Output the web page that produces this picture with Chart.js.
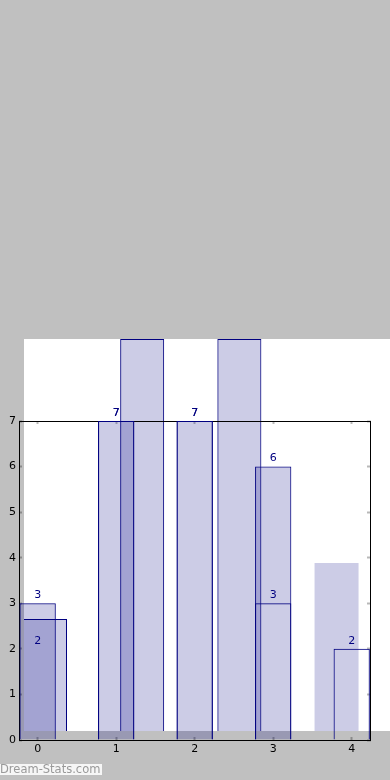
<!DOCTYPE html>
<html lang="es">
<head>
<meta charset="utf-8">
<title>Dream-Stats</title>
<script src="https://cdn.jsdelivr.net/npm/chart.js@4.4.1/dist/chart.umd.min.js"></script>
<style>
    html, body { margin: 0; padding: 0; width: 390px; height: 780px; overflow: hidden; background: #c0c0c0; }
    canvas { position: absolute; left: 0; top: 0; }
    #marca {
        position: absolute; left: 0; top: 764px; height: 11px; line-height: 11px;
        padding-right: 2px; background: #f6f6f6; color: #999;
        font-family: "DejaVu Sans", sans-serif; font-size: 11.5px;
    }
</style>
</head>
<body>
<canvas id="graficoFondo" width="390" height="780"></canvas>
<canvas id="graficoBarras" width="390" height="780"></canvas>
<div id="marca">Dream-Stats.com</div>
<script>
"use strict";

// Datos
const categorias = [0, 1, 2, 3, 4];
const ticksY = [0, 1, 2, 3, 4, 5, 6, 7];
const serieA = [3, 7, 7, 6, 2];
const serieB = [2, 7, 7, 3, null];

const AZUL = "#000080";
const RELLENO = "rgba(0, 0, 128, 0.2)";
const MARCA = "rgba(0, 0, 0, 0.28)";
const fuente = { family: "DejaVu Sans", size: 11 };

document.addEventListener("DOMContentLoaded", () => {
    const ctxFondo = document.getElementById("graficoFondo").getContext("2d");
    const ctxBarras = document.getElementById("graficoBarras").getContext("2d");

    const puntos = (serie) => serie.map((v, i) => ({ x: categorias[i], y: v }));
    const ponerTicks = (valores) => (escala) => { escala.ticks = valores.map(v => ({ value: v })); };

    // Panel blanco desplazado (copia ampliada del área del gráfico)
    const fondoBlanco = {
        id: "fondoBlanco",
        beforeDatasetsDraw(chart) {
            const { ctx, chartArea: a } = chart;
            ctx.save();
            ctx.fillStyle = "#ffffff";
            ctx.fillRect(a.left, a.top, a.right - a.left, a.bottom - a.top);
            ctx.restore();
        }
    };

    // Etiquetas con el valor encima de cada barra
    const etiquetas = {
        id: "etiquetas",
        afterDatasetsDraw(chart) {
            const ctx = chart.ctx;
            ctx.save();
            ctx.font = '11px "DejaVu Sans"';
            ctx.fillStyle = AZUL;
            ctx.textAlign = "center";
            ctx.textBaseline = "middle";
            chart.data.datasets.forEach((ds, i) => {
                chart.getDatasetMeta(i).data.forEach((barra, j) => {
                    const valor = ds.data[j].y;
                    if (valor == null) return;
                    ctx.fillText(String(valor), barra.x, barra.y - 8);
                });
            });
            ctx.restore();
        }
    };

    new Chart(ctxFondo, {
        type: "bar",
        data: {
            datasets: [{
                data: puntos(serieB),
                backgroundColor: RELLENO,
                borderColor: AZUL,
                borderWidth: serieB.map((v, i) => (i === 3 ? 0 : 1))
            }]
        },
        options: {
            responsive: false,
            animation: false,
            devicePixelRatio: 1,
            layout: { padding: { left: 24, top: 339, right: 0, bottom: 49 } },
            datasets: { bar: { grouped: false, barPercentage: 0.453, categoryPercentage: 1 } },
            plugins: { legend: { display: false }, tooltip: { enabled: false } },
            scales: {
                x: { type: "linear", display: false, offset: false, min: -0.216, max: 3.55, afterBuildTicks: ponerTicks(categorias) },
                y: { type: "linear", display: false, min: 0, max: 7, afterBuildTicks: ponerTicks(ticksY) }
            }
        },
        plugins: [fondoBlanco]
    });

    const rejilla = { drawOnChartArea: false, drawTicks: true, offset: false, tickLength: -3, tickColor: MARCA, tickWidth: 2 };
    const borde = { display: true, color: "#000000", width: 1 };

    new Chart(ctxBarras, {
        type: "bar",
        data: {
            datasets: [
                {
                    data: puntos(serieA),
                    backgroundColor: serieA.map((v, i) => (i === 4 ? "rgba(0,0,0,0)" : RELLENO)),
                    borderColor: AZUL,
                    borderWidth: 1
                },
                {
                    data: puntos(serieB),
                    backgroundColor: "rgba(0,0,0,0)",
                    borderColor: AZUL,
                    borderWidth: serieB.map((v, i) => (i === 0 ? 0 : 1))
                }
            ]
        },
        options: {
            responsive: false,
            animation: false,
            devicePixelRatio: 1,
            layout: { padding: { left: 0, top: 421, right: 20, bottom: 0 } },
            datasets: { bar: { grouped: false, barPercentage: 0.462, categoryPercentage: 1 } },
            plugins: { legend: { display: false }, tooltip: { enabled: false } },
            scales: {
                x: {
                    type: "linear", position: "bottom", offset: false, min: -0.238, max: 4.233,
                    afterBuildTicks: ponerTicks(categorias),
                    afterFit: (s) => { s.height = 40; },
                    grid: rejilla, border: borde,
                    ticks: { color: "#000", font: fuente, padding: 6 }
                },
                x2: {
                    type: "linear", position: "top", offset: false, min: -0.238, max: 4.233,
                    afterBuildTicks: ponerTicks(categorias),
                    afterFit: (s) => { s.height = 0; },
                    grid: rejilla, border: borde,
                    ticks: { display: false }
                },
                y: {
                    type: "linear", position: "left", min: 0, max: 7,
                    afterBuildTicks: ponerTicks(ticksY),
                    afterFit: (s) => { s.width = 19; },
                    grid: rejilla, border: borde,
                    ticks: { color: "#000", font: fuente, padding: 6 }
                },
                y2: {
                    type: "linear", position: "right", min: 0, max: 7,
                    afterBuildTicks: ponerTicks(ticksY),
                    afterFit: (s) => { s.width = 0; },
                    grid: rejilla, border: borde,
                    ticks: { display: false }
                }
            }
        },
        plugins: [etiquetas]
    });
});
</script>
</body>
</html>
